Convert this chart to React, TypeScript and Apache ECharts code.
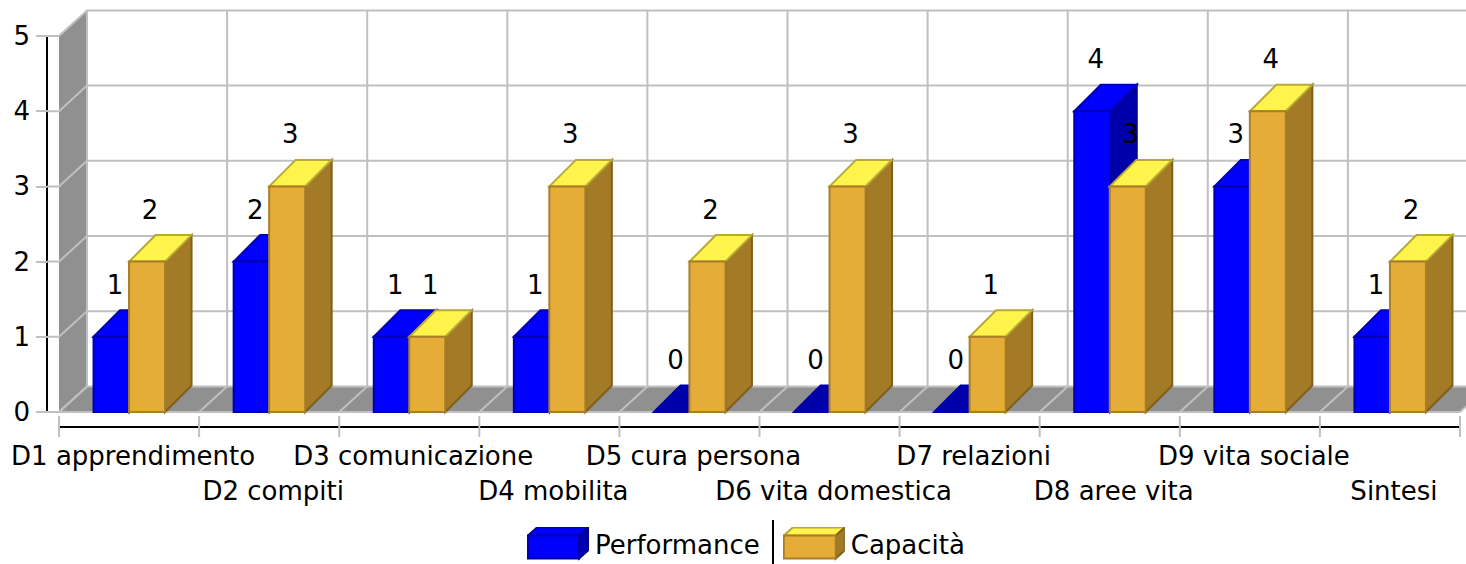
import React, { useEffect, useRef } from "react";
import * as echarts from "echarts";

const categories = ["D1 apprendimento", "D2 compiti", "D3 comunicazione", "D4 mobilita", "D5 cura persona", "D6 vita domestica", "D7 relazioni", "D8 aree vita", "D9 vita sociale", "Sintesi"];
const performance = [1, 2, 1, 1, 0, 0, 0, 4, 3, 1];
const capacita = [2, 3, 1, 3, 2, 3, 1, 3, 4, 2];
const yTicks = [0, 1, 2, 3, 4, 5];

const FONT = "'DejaVu Sans', sans-serif";
const GRID = "#c0c0c0";
const WALL = "#909090";
const WALL_DX = 28;
const WALL_DY = 25.6;
const BAR_DX = 26.5;
const BAR_DY = 26.5;
const BAR_W = 36;

const blue = { front: "#0000ff", top: "#0000ff", side: "#0000aa", frontEdge: "#0000b2", topEdge: "#0000b2", sideEdge: "#00008c", zero: "#0000aa" };
const gold = { front: "#e6ac38", top: "#fff44c", side: "#a37a26", frontEdge: "#a87f28", topEdge: "#b8a836", sideEdge: "#7f5f1c", zero: "#fff44c" };

function boxIcon(w: number, h: number, dx: number, dy: number, c: typeof blue) {
  const svg = `<svg xmlns="http://www.w3.org/2000/svg" width="62" height="37">` +
    `<polygon points="1,${dy + 1} ${dx + 1},1 ${w + dx + 1},1 ${w + 1},${dy + 1}" fill="${c.top}" stroke="${c.topEdge}" stroke-width="2"/>` +
    `<polygon points="${w + 1},${dy + 1} ${w + dx + 1},1 ${w + dx + 1},${h + 1} ${w + 1},${h + dy + 1}" fill="${c.side}" stroke="${c.sideEdge}" stroke-width="2"/>` +
    `<rect x="1" y="${dy + 1}" width="${w}" height="${h}" fill="${c.front}" stroke="${c.frontEdge}" stroke-width="2"/></svg>`;
  return "image://data:image/svg+xml;charset=utf-8," + encodeURIComponent(svg);
}

function frameItem(params: any, api: any) {
  const cs = params.coordSys;
  const x0 = cs.x;
  const x1 = cs.x + cs.width;
  const y0 = api.coord([0, 0])[1];
  const yTop = api.coord([0, yTicks[yTicks.length - 1]])[1];
  const step = cs.width / categories.length;
  const line = { stroke: GRID, lineWidth: 2, fill: "none" };
  const kids: any[] = [];
  kids.push({ type: "polygon", shape: { points: [[x0, y0], [x0 + WALL_DX, y0 - WALL_DY], [x1 + WALL_DX, y0 - WALL_DY], [x1, y0]] }, style: { fill: WALL } });
  kids.push({ type: "polygon", shape: { points: [[x0, yTop], [x0 + WALL_DX, yTop - WALL_DY], [x0 + WALL_DX, y0 - WALL_DY], [x0, y0]] }, style: { fill: WALL } });
  for (let i = 0; i < categories.length; i++) {
    const bx = x0 + WALL_DX + i * step;
    kids.push({ type: "line", shape: { x1: bx, y1: yTop - WALL_DY, x2: bx, y2: y0 - WALL_DY }, style: line });
  }
  for (const v of yTicks) {
    const y = api.coord([0, v])[1];
    kids.push({ type: "polyline", shape: { points: [[x0 - 12, y], [x0, y], [x0 + WALL_DX, y - WALL_DY], [x1 + WALL_DX, y - WALL_DY]] }, style: line });
  }
  for (let i = 0; i <= categories.length; i++) {
    const fx = x0 + i * step;
    kids.push({ type: "polyline", shape: { points: [[fx + WALL_DX, y0 - WALL_DY], [fx, y0]] }, style: line });
    kids.push({ type: "line", shape: { x1: fx, y1: y0 + 4, x2: fx, y2: y0 + 25 }, style: line });
  }
  kids.push({ type: "line", shape: { x1: x0, y1: y0, x2: x1, y2: y0 }, style: line });
  return { type: "group", children: kids };
}

function barItem(c: typeof blue, offset: number, labelOffset: number) {
  return (_params: any, api: any) => {
    const v = api.value(1);
    const p = api.coord([api.value(0), v]);
    const base = api.coord([api.value(0), 0])[1];
    const x = p[0] + offset;
    const y = p[1];
    const kids: any[] = [];
    kids.push({ type: "polygon", shape: { points: [[x + BAR_W, y], [x + BAR_W + BAR_DX, y - BAR_DY], [x + BAR_W + BAR_DX, base - BAR_DY], [x + BAR_W, base]] }, style: { fill: c.side, stroke: c.sideEdge, lineWidth: 2 } });
    const topFill = v === 0 ? c.zero : c.top;
    kids.push({ type: "polygon", shape: { points: [[x, y], [x + BAR_DX, y - BAR_DY], [x + BAR_W + BAR_DX, y - BAR_DY], [x + BAR_W, y]] }, style: { fill: topFill, stroke: v === 0 ? c.zero : c.topEdge, lineWidth: 2 } });
    if (v > 0) {
      kids.push({ type: "rect", shape: { x, y, width: BAR_W, height: base - y }, style: { fill: c.front, stroke: c.frontEdge, lineWidth: 2 } });
    }
    kids.push({ type: "text", x: x + labelOffset, y: y - 52, style: { text: String(v), fill: "#000", font: `26px ${FONT}`, align: "center", verticalAlign: "middle" }, z2: 100 });
    return { type: "group", children: kids };
  };
}

export default function App() {
  const ref = useRef<HTMLDivElement>(null);
  useEffect(() => {
    const chart = echarts.init(ref.current!, null, { renderer: "svg" });
    chart.setOption({
      animation: false,
      backgroundColor: "#ffffff",
      textStyle: { fontFamily: FONT },
      grid: { left: 59, right: 6, top: 36, bottom: 152, containLabel: false },
      legend: {
        left: 527,
        top: 526.5,
        padding: 0,
        itemWidth: 62,
        itemHeight: 37,
        itemGap: 23,
        selectedMode: false,
        textStyle: { fontFamily: FONT, fontSize: 26, color: "#000", padding: [0, 0, 0, 1] },
        data: [
          { name: "Performance", icon: boxIcon(51, 23, 9, 8, blue) },
          { name: "Capacità", icon: boxIcon(52, 23, 9, 8, gold) },
        ],
      },
      xAxis: {
        type: "category",
        data: categories,
        offset: 15,
        axisLine: { show: true, onZero: false, lineStyle: { color: "#000", width: 2 } },
        axisTick: { show: false },
        splitLine: { show: false },
        axisLabel: {
          interval: 0,
          hideOverlap: false,
          margin: 12,
          color: "#000",
          fontFamily: FONT,
          fontSize: 26,
          lineHeight: 34.5,
          padding: [0, 0, 0, 8],
          formatter: (v: string, i: number) => (i % 2 === 1 ? "\n" + v : v),
        },
      },
      yAxis: {
        type: "value",
        min: 0,
        max: 5,
        interval: 1,
        offset: 12,
        axisLine: { show: true, lineStyle: { color: "#000", width: 2 } },
        axisTick: { show: true, length: 11, lineStyle: { color: GRID, width: 2 } },
        splitLine: { show: false },
        axisLabel: { margin: 17, color: "#000", fontFamily: FONT, fontSize: 26 },
      },
      series: [
        { type: "custom", name: "frame", silent: true, z: 1, renderItem: frameItem, data: [[0, 0]], encode: { x: 0, y: 1 } },
        { type: "custom", name: "Performance", silent: true, z: 2, renderItem: barItem(blue, -35.5, 21.5), data: performance.map((v, i) => [i, v]), encode: { x: 0, y: 1 } },
        { type: "custom", name: "Capacità", silent: true, z: 3, renderItem: barItem(gold, 0, 21), data: capacita.map((v, i) => [i, v]), encode: { x: 0, y: 1 } },
      ],
      graphic: [
        { type: "line", shape: { x1: 773, y1: 520, x2: 773, y2: 564 }, style: { stroke: "#000", lineWidth: 2 } },
      ],
    });
    return () => chart.dispose();
  }, []);
  return <div ref={ref} style={{ position: "absolute", left: 0, top: 0, width: 1466, height: 564 }} />;
}
